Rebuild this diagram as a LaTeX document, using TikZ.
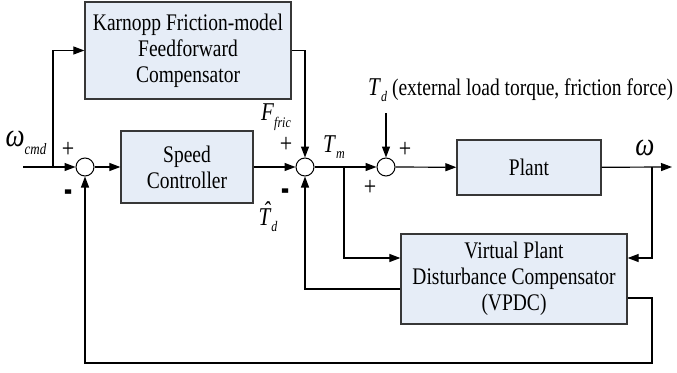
\documentclass[tikz,border=0pt]{standalone}
\usepackage{fontspec}
\usepackage{graphicx}
\setmainfont{Liberation Serif}
\usetikzlibrary{arrows.meta}
\newcommand\tallx[1]{\scalebox{1}[1.22]{#1}}
\newcommand\symb[2]{\tallx{{\fontsize{21}{21}\selectfont\textit{#1}}\raisebox{-0.25em}{\fontsize{12}{12}\selectfont\textit{#2}}}}
\newcommand\hatT{\makebox[0pt][l]{\hspace{0.22em}\raisebox{0.22em}{ˆ}}\textit{T}}
\newcommand\minussign{\scalebox{1.1}[2.4]{\textbf{-}}}
\definecolor{boxfill}{RGB}{230,237,247}
\definecolor{boxdraw}{RGB}{55,55,55}
\begin{document}
\begin{tikzpicture}[x=1pt,y=-1pt,
  blk/.style={draw=boxdraw,line width=1.3pt,fill=boxfill,rectangle,inner sep=0pt,align=center,
    font=\fontsize{19.5}{26}\selectfont},
  sumc/.style={draw=black,line width=1pt,fill=white,circle,minimum size=18pt,inner sep=0pt},
  conn/.style={line width=1.2pt,-{Triangle[length=11pt,width=8pt]}},
  lbl/.style={inner sep=0pt,font=\fontsize{21}{21}\selectfont},
  sgn/.style={inner sep=0pt,font=\fontsize{22}{22}\selectfont}]
\useasboundingbox (0,0) rectangle (677,372);
% blocks
\node[blk,minimum width=206pt,minimum height=97pt] (kar) at (188,50.5)
  {\tallx{Karnopp Friction-model}\\\tallx{Feedforward}\\\tallx{Compensator}};
\node[blk,minimum width=132pt,minimum height=72pt] (sc) at (187,167)
  {\tallx{Speed}\\\tallx{Controller}};
\node[blk,minimum width=144pt,minimum height=55pt] (plant) at (529,167.5)
  {\tallx{Plant}};
\node[blk,minimum width=226pt,minimum height=90pt] (vpdc) at (514,279)
  {\tallx{Virtual Plant}\\\tallx{Disturbance Compensator}\\\tallx{(VPDC)}};
% summing junctions
\node[sumc] (s1) at (85,167) {};
\node[sumc] (s2) at (305,167) {};
\node[sumc] (s3) at (386,167) {};
% coordinates
\coordinate (in) at (23,167);
\coordinate (b1) at (53,167);
\coordinate (k1) at (53,50.5);
\coordinate (k2) at (305,50.5);
\coordinate (tmb) at (344,167);
\coordinate (tmv) at (344,258);
\coordinate (tdin) at (386,113);
\coordinate (out) at (672,167);
\coordinate (wb) at (652,167);
\coordinate (wv) at (652,258);
\coordinate (vo1) at (401,289);
\coordinate (vo1c) at (305,289);
\coordinate (vo2) at (627,298);
\coordinate (vo2c) at (652,298);
\coordinate (bot1) at (652,363);
\coordinate (bot2) at (85,363);
% connectors
\draw[conn] (in) -- (s1);
\draw[conn] (b1) -- (k1) -- (kar.west);
\draw[conn] (s1) -- (sc);
\draw[conn] (sc) -- (s2);
\draw[conn] (kar.east |- k2) -- (k2) -- (s2);
\draw[conn] (s2) -- (s3);
\draw[conn] (tmb) -- (tmv) -- (vpdc.west |- tmv);
\draw[conn] (tdin) -- (s3);
\draw[conn] (s3) -- (plant);
\draw[conn] (plant) -- (out);
\draw[conn] (wb) -- (wv) -- (vpdc.east |- wv);
\draw[conn] (vpdc.west |- vo1) -- (vo1c) -- (s2);
\draw[conn] (vpdc.east |- vo2) -- (vo2c) -- (bot1) -- (bot2) -- (s1);
% labels
\node[lbl] (lwcmd) at (26,143) {\tallx{{\fontsize{27}{27}\selectfont\textit{ω}}\raisebox{-0.3em}{\fontsize{13}{13}\selectfont\textit{cmd}}}};
\node[sgn] (p1) at (68,150) {\tallx{+}};
\node[sgn] (m1) at (69,197) {\minussign};
\node[lbl] (lff) at (276,117) {\symb{F}{fric}};
\node[sgn] (p2) at (286,145) {\tallx{+}};
\node[sgn] (m2) at (286,196) {\minussign};
\node[lbl] (ltd) at (268,217) {\symb{\hatT}{d}};
\node[lbl] (ltm) at (334,147) {\symb{T}{m}};
\node[lbl,anchor=west] (ltdx) at (368,90) {\symb{T}{d}\tallx{\fontsize{19.5}{19.5}\selectfont\ (external load torque, friction force)}};
\node[sgn] (p3) at (405,150) {\tallx{+}};
\node[sgn] (p4) at (370,188) {\tallx{+}};
\node[lbl] (lw) at (645,148) {\tallx{\fontsize{27}{27}\selectfont\textit{ω}}};
\end{tikzpicture}
\end{document}
